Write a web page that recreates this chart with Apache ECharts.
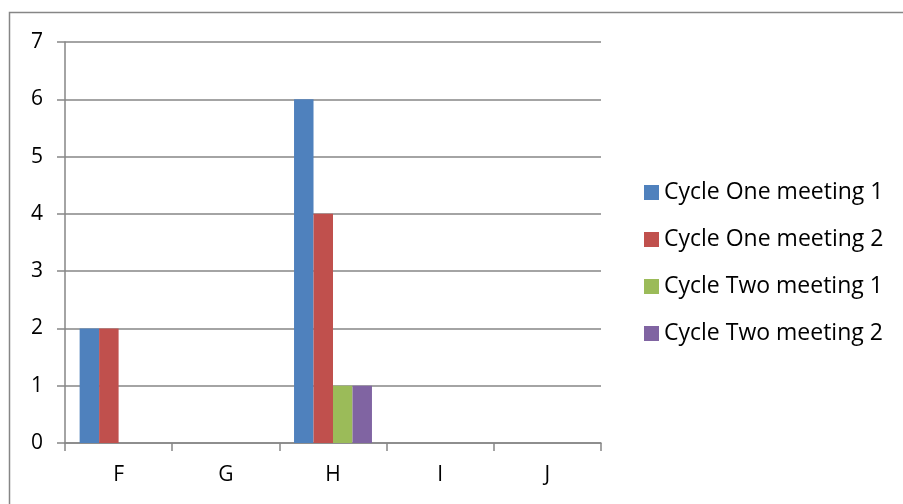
<!DOCTYPE html>
<html><head><meta charset="utf-8">
<script src="https://cdn.jsdelivr.net/npm/echarts@6/dist/echarts.min.js"></script>
<style>html,body{margin:0;padding:0;background:#fff}#c{width:903px;height:504px}</style>
</head><body><div id="c"></div>
<script>
const categories = ['F', 'G', 'H', 'I', 'J'];
const cycleOneMeeting1 = [2, 0, 6, 0, 0];
const cycleOneMeeting2 = [2, 0, 4, 0, 0];
const cycleTwoMeeting1 = [0, 0, 1, 0, 0];
const cycleTwoMeeting2 = [0, 0, 1, 0, 0];
const seriesNames = ['Cycle One meeting 1', 'Cycle One meeting 2', 'Cycle Two meeting 1', 'Cycle Two meeting 2'];
const seriesData = [cycleOneMeeting1, cycleOneMeeting2, cycleTwoMeeting1, cycleTwoMeeting2];
const colors = ['#4F81BD', '#C0504D', '#9BBB59', '#8064A2'];
const FONT = 'Open Sans';
const chart = echarts.init(document.getElementById('c'));
chart.setOption({
  animation: false,
  color: colors,
  textStyle: {fontFamily: FONT},
  graphic: [{type: 'rect', shape: {x: 9.5, y: 12.5, width: 900, height: 500}, style: {fill: 'none', stroke: '#868686', lineWidth: 1.5}, silent: true}],
  grid: {left: 65, right: 302, top: 42, bottom: 61},
  legend: {
    orient: 'vertical', left: 639, top: 176, itemWidth: 15, itemHeight: 15, itemGap: 24,
    icon: 'rect', textStyle: {fontSize: 23, lineHeight: 22, color: '#000', fontFamily: FONT}, data: seriesNames
  },
  xAxis: {
    type: 'category', data: categories,
    axisLine: {lineStyle: {color: '#868686', width: 1.5}},
    axisTick: {show: true, length: 8, lineStyle: {color: '#868686', width: 1.5}},
    axisLabel: {color: '#000', fontSize: 21, margin: 22, fontFamily: FONT}
  },
  yAxis: {
    type: 'value', min: 0, max: 7, interval: 1,
    axisLine: {show: true, lineStyle: {color: '#868686', width: 1.5}},
    axisTick: {show: true, length: 8, lineStyle: {color: '#868686', width: 1.5}},
    splitLine: {lineStyle: {color: '#868686', width: 1.5}},
    axisLabel: {color: '#000', fontSize: 21, margin: 22, fontFamily: FONT}
  },
  series: seriesNames.map((n, i) => ({
    name: n, type: 'bar', data: seriesData[i], barGap: '0%', barCategoryGap: '27.3%'
  }))
});
</script></body></html>
